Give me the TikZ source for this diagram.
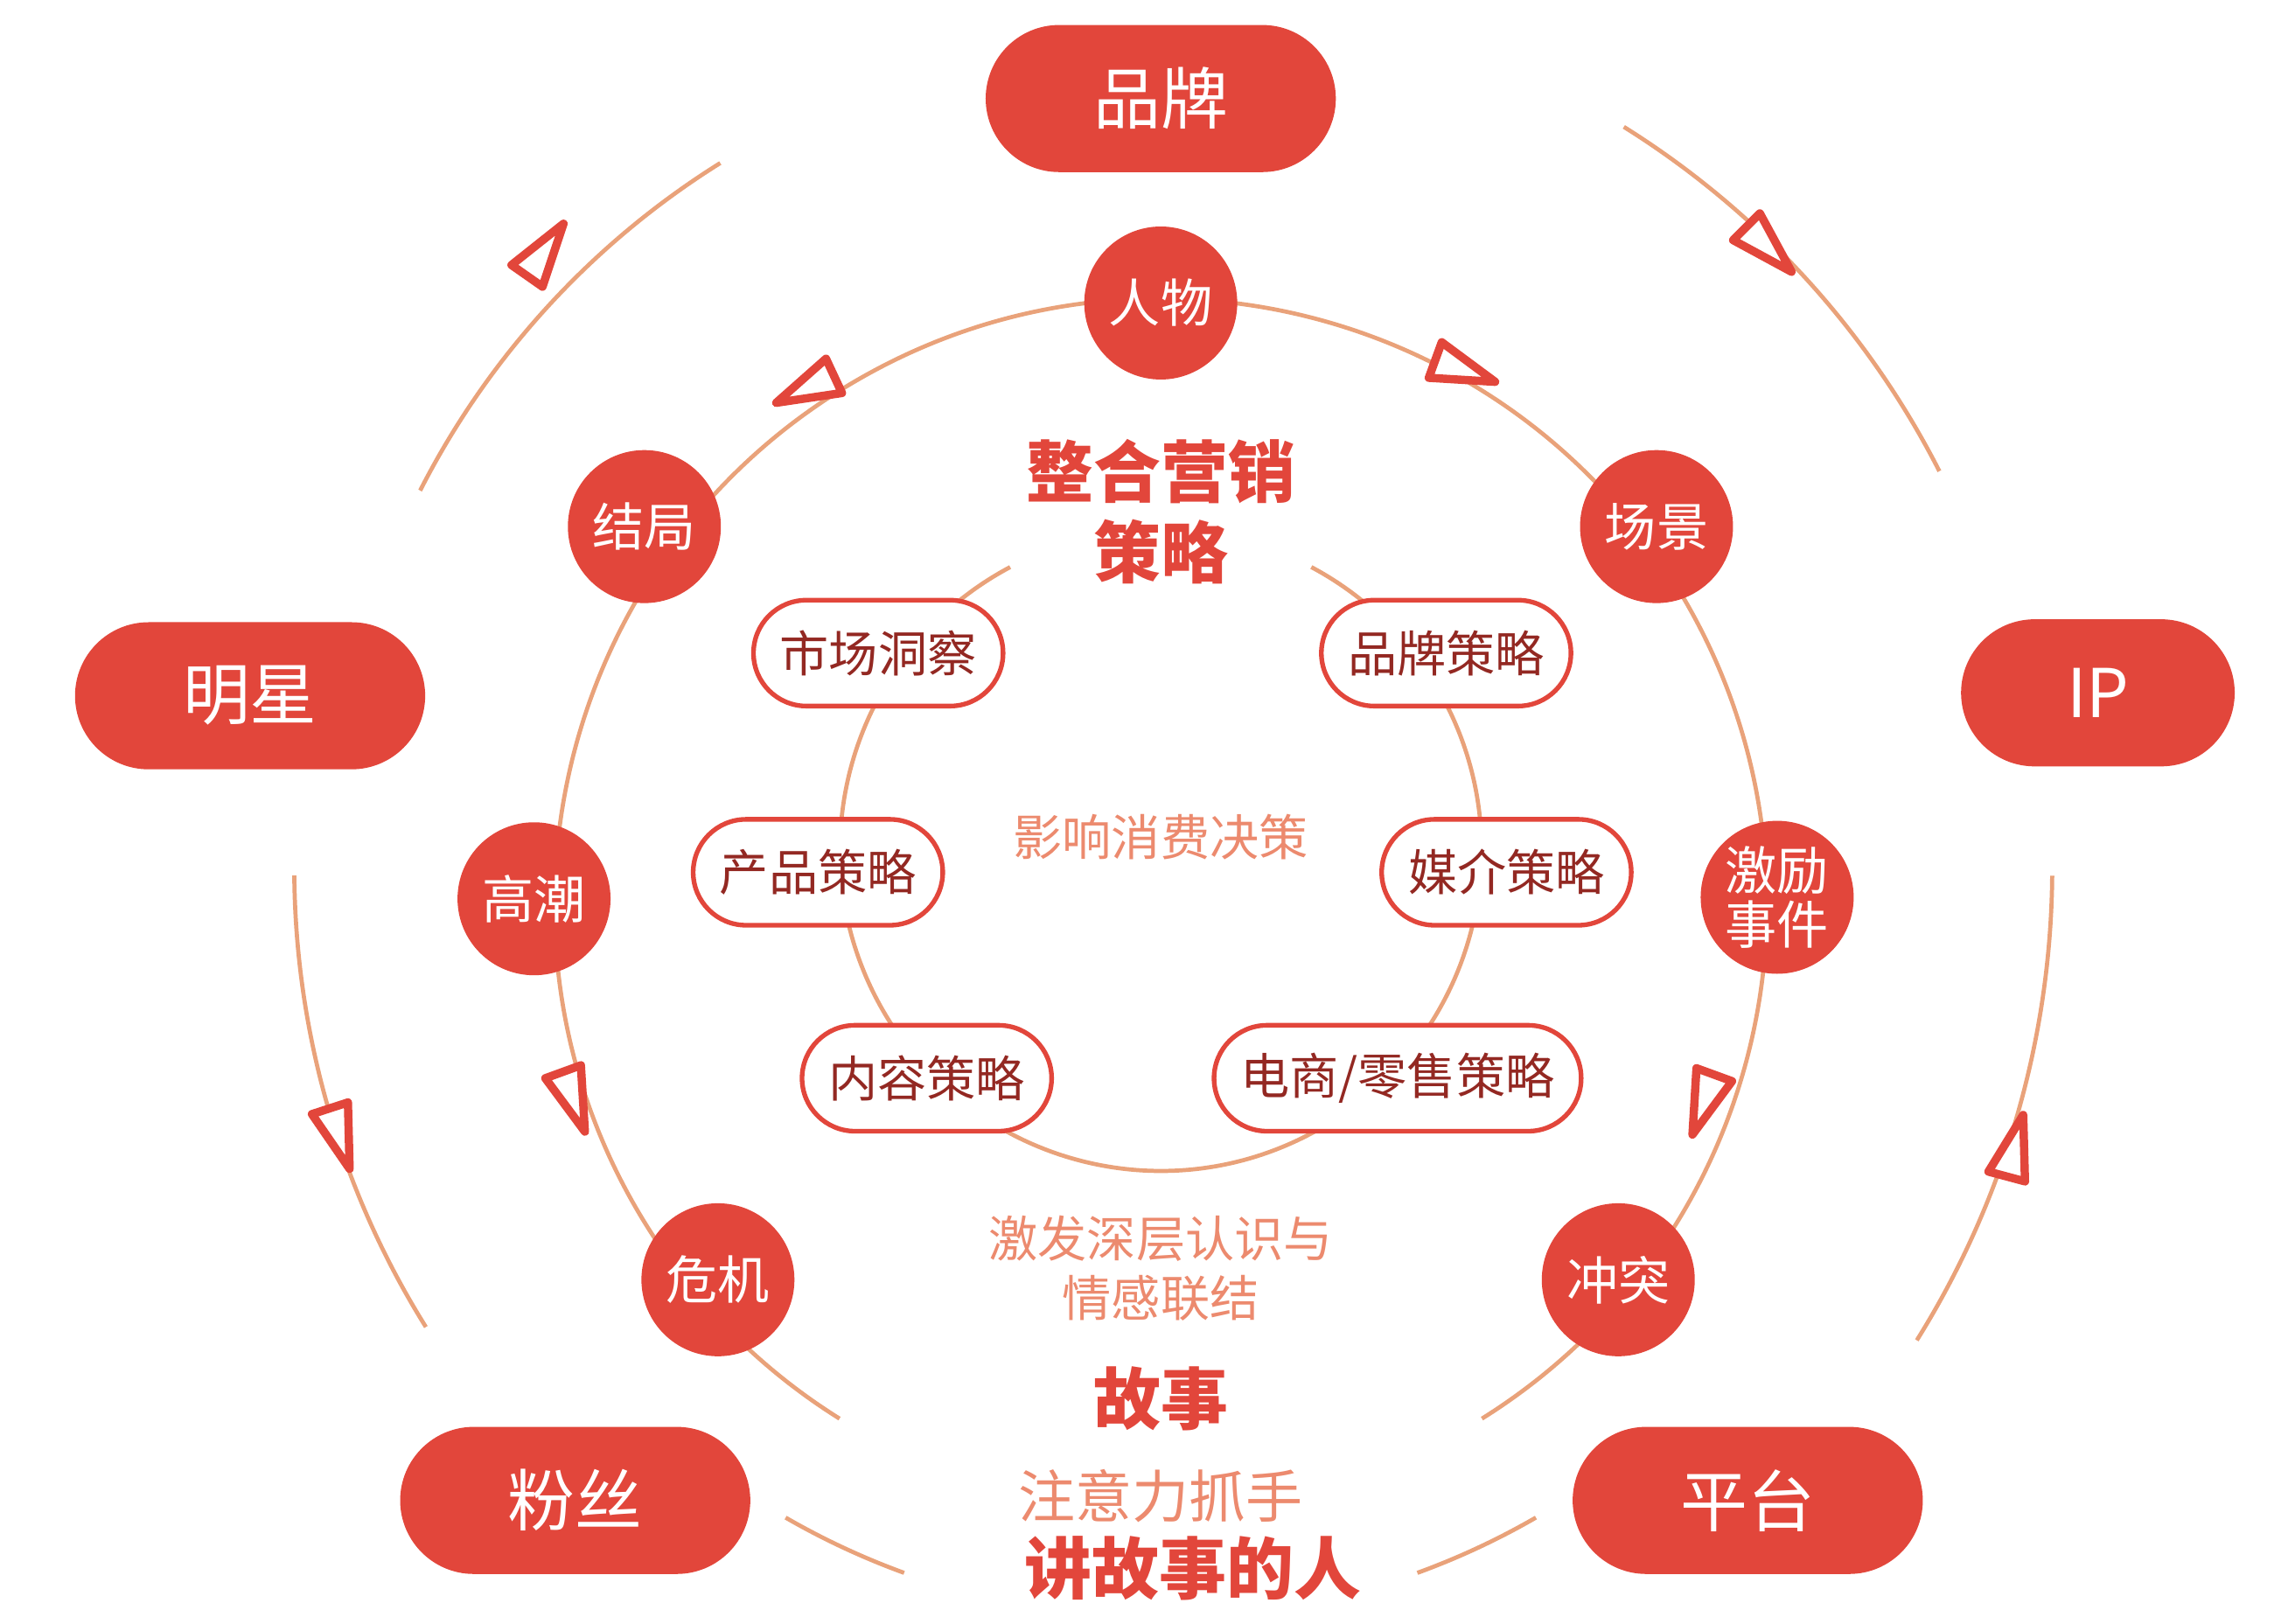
\documentclass[tikz,border=0pt]{standalone}
\usepackage{fontspec}
\setmainfont{Noto Sans CJK SC}
\usetikzlibrary{calc}
\definecolor{rd}{HTML}{E2463B}
\definecolor{dk}{HTML}{B8322A}
\definecolor{ln}{HTML}{E9A27A}
\definecolor{lt}{HTML}{EC8A6E}
\tikzset{
 bigpill/.style={rounded corners=0.5cm, fill=rd, text=white, minimum height=100*0.01cm, minimum width=238*0.01cm, font=\fontsize{13}{13}\selectfont, inner sep=0},
 circ/.style={circle, fill=rd, text=white, minimum size=104*0.01cm, inner sep=0, font=\fontsize{10}{10.5}\selectfont, align=center},
 spill/.style={rounded corners=0.36cm, draw=rd, line width=0.9pt, fill=white, text=dk!80!black, minimum height=72*0.01cm, inner xsep=0.18cm, font=\fontsize{9.5}{10}\selectfont},
 arcl/.style={draw=ln, line width=0.8pt},
 trist/.style={draw=rd, line width=1.6pt, fill=white, line join=round},
 lab/.style={text=lt, font=\fontsize{9.5}{11.5}\selectfont, align=center},
 ttl/.style={text=rd, font=\fontsize{13}{15.5}\selectfont\bfseries, align=center}
}
\newcommand\tri[3]{\draw[trist] ($(#1,-#2)+(#3:28)$) -- ($(#1,-#2)+(#3+140:20)$) -- ($(#1,-#2)+(#3-140:20)$) -- cycle;}
\begin{document}
\begin{tikzpicture}[x=0.01cm,y=0.01cm]
\useasboundingbox (0,0) rectangle (1560,-1104);
% outer arcs
\draw[arcl] (789,-590) ++(122:565) arc (122:153:565);
\draw[arcl] (789,-590) ++(58:594) arc (58:27:594);
\draw[arcl] (789,-590) ++(180.5:589) arc (180.5:212:589);
\draw[arcl] (789,-590) ++(-0.5:606) arc (-0.5:-32:606);
\draw[arcl] (789,-590) ++(240:510) arc (240:250:510);
\draw[arcl] (789,-590) ++(300:510) arc (300:290:510);
% middle circle
\draw[arcl] (789,-615) ++(-58:412) arc (-58:238:412);
% inner circle
\draw[arcl] (789,-578) ++(118:218) arc (118:422:218);
% triangles
\tri{367}{175}{55}
\tri{553}{262}{205}
\tri{990}{250}{-20}
\tri{1198}{165}{-45}
\tri{388}{743}{-70}
\tri{229}{768}{-72}
\tri{1160}{745}{-110}
\tri{1368}{785}{75}
% big pills
\node[bigpill] (pp) at (789,-67) {品牌};
\node[bigpill] (mx) at (170,-473) {明星};
\node[bigpill, minimum width=186*0.01cm] (ip) at (1426,-471) {IP};
\node[bigpill] (fs) at (391,-1020) {粉丝};
\node[bigpill] (pt) at (1188,-1020) {平台};
% circles
\node[circ] (rw) at (789,-206) {人物};
\node[circ] (cj) at (1126,-358) {场景};
\node[circ] (jl) at (1208,-610) {激励\\事件};
\node[circ] (ct) at (1100,-870) {冲突};
\node[circ] (wj) at (488,-870) {危机};
\node[circ] (gc) at (363,-611) {高潮};
\node[circ] (jj) at (438,-358) {结局};
% small pills
\node[spill] (sc) at (597,-444) {市场洞察};
\node[spill] (ppcl) at (983,-444) {品牌策略};
\node[spill] (cp) at (556,-593) {产品策略};
\node[spill] (mj) at (1024,-593) {媒介策略};
\node[spill] (nr) at (630,-733) {内容策略};
\node[spill] (ds) at (950,-733) {电商/零售策略};
% texts
\node[ttl] (zh) at (789,-348) {整合营销\\策略};
\node[lab] (yx) at (789,-569) {影响消费决策};
\node[lab] (jf) at (789,-862) {激发深层认识与\\情感联结};
\node[ttl] (gs) at (789,-951) {故事};
\node[lab, font=\fontsize{11}{11}\selectfont] (zy) at (789,-1017) {注意力抓手};
\node[ttl] (jgs) at (811,-1066) {讲故事的人};
\end{tikzpicture}
\end{document}
